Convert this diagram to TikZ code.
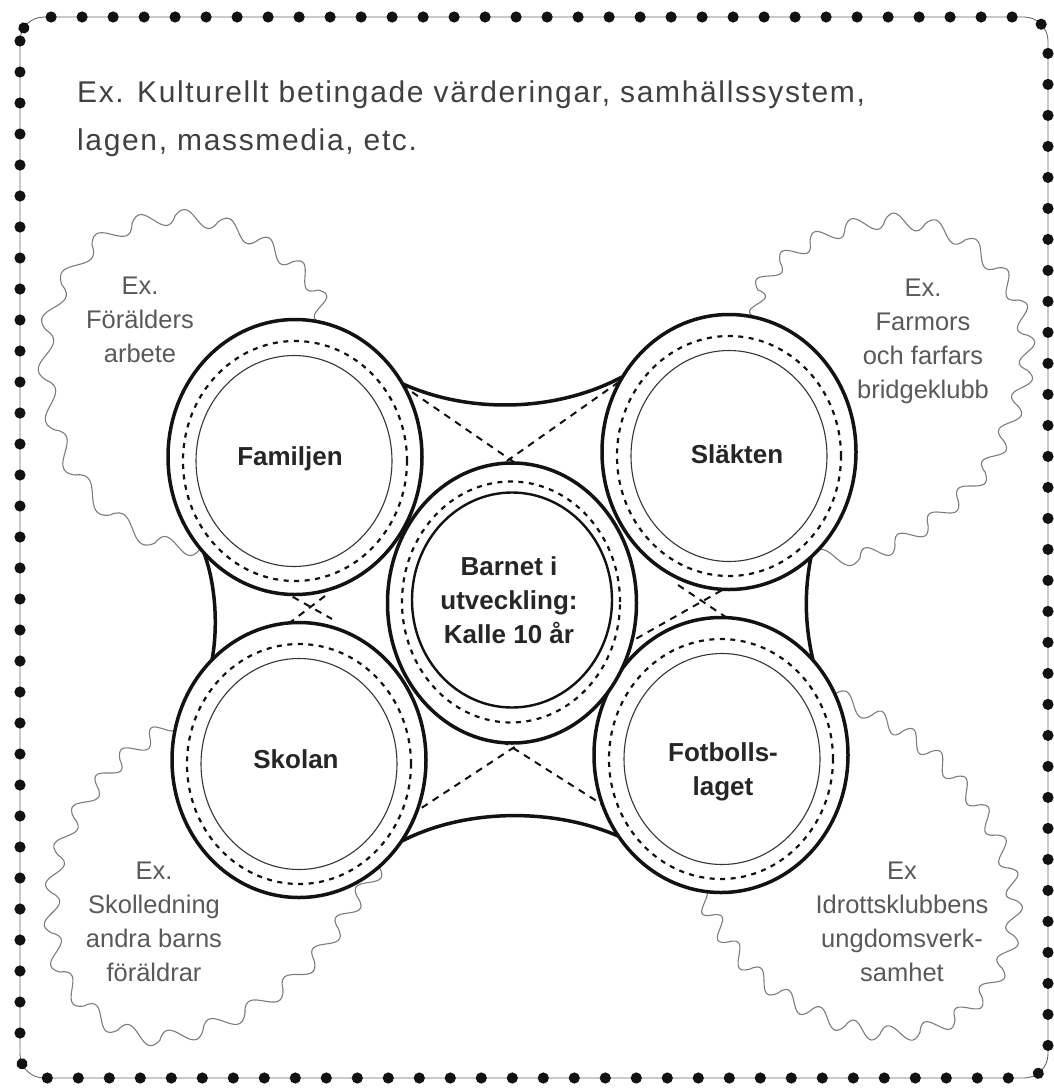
\documentclass[tikz,border=0pt]{standalone}
\usepackage{fontspec}
\setmainfont{Liberation Sans}
\usetikzlibrary{shapes.geometric,decorations.markings,backgrounds,calc}
\definecolor{ink}{HTML}{121212}
\definecolor{txtgray}{HTML}{404040}
\definecolor{lblgray}{HTML}{595959}
\definecolor{lbldark}{HTML}{262626}
\definecolor{wavgray}{HTML}{7C7C7C}
\definecolor{bordline}{HTML}{6A6A6A}
\begin{document}
\begin{tikzpicture}[x=1pt,y=-1pt,
  outerring/.style={ellipse, draw=ink, line width=3.5pt, fill=white, inner sep=0pt,
    minimum width=254pt, minimum height=275pt},
  dashring/.style={ellipse, draw=ink, line width=2.2pt, dash pattern=on 5pt off 5.5pt,
    inner sep=0pt, minimum width=224pt, minimum height=240pt},
  innerring/.style={ellipse, draw=ink!85, line width=1.1pt, inner sep=0pt,
    minimum width=196pt, minimum height=211pt},
  fillet/.style={draw=ink, line width=3.5pt},
  xdash/.style={draw=ink, line width=2pt, dash pattern=on 7pt off 6pt},
  wavyline/.style={draw=wavgray, line width=1.1pt},
  dotborder/.style={draw=bordline, line width=0.9pt, rounded corners=24pt,
    postaction={decorate, decoration={markings,
      mark=between positions 0 and 1 step 31pt with {\fill[ink] (0,0) circle (5.6pt);}}}},
  toptext/.style={anchor=north west, inner sep=0pt, align=left, text=txtgray,
    font=\fontsize{30pt}{48pt}\selectfont\addfontfeatures{LetterSpace=5.5}},
  exolabel/.style={align=center, inner sep=0pt, text=lblgray,
    font=\fontsize{25.5pt}{34pt}\selectfont},
  boldlabel/.style={align=center, inner sep=0pt, text=lbldark,
    font=\bfseries\fontsize{26pt}{34pt}\selectfont}
]
\useasboundingbox (0,0) rectangle (1053,1090);

% ---- the five circles ----
\node[outerring] (fam) at (295,457) {};
\node[dashring] (famd) at (295,461) {};
\node[innerring] (fami) at (294,461) {};

\node[outerring] (sla) at (729,452) {};
\node[dashring] (slad) at (729,456) {};
\node[innerring] (slai) at (729,456) {};

\node[outerring] (sko) at (299,760) {};
\node[dashring] (skod) at (299,764) {};
\node[innerring] (skoi) at (299,764) {};

\node[outerring] (fot) at (721,755) {};
\node[dashring] (fotd) at (721,759) {};
\node[innerring] (foti) at (722,759) {};

\node[outerring, minimum width=249pt, minimum height=280pt] (ctr) at (512,603) {};
\node[dashring, minimum width=218pt, minimum height=241pt] (ctrd) at (511,602) {};
\node[innerring, draw=ink, line width=2.4pt, minimum width=200pt, minimum height=215pt] (ctri) at (512,600) {};

% ---- points on the outer circles ----
\coordinate (famC) at (403,384);  \coordinate (famD) at (204,553);
\coordinate (slaB) at (811,557);  \coordinate (slaC) at (622,377);
\coordinate (skoC) at (402,841);  \coordinate (skoD) at (212,660);
\coordinate (fotC) at (618,836);  \coordinate (fotD) at (813,660);

% ---- labels ----
\node[boldlabel, anchor=base] (famt) at (290,465) {Familjen};
\node[boldlabel, anchor=base] (slat) at (737,463) {Släkten};
\node[boldlabel, anchor=base] (skot) at (296,768) {Skolan};
\node[boldlabel] (fott) at (723,772) {Fotbolls-\\laget};
\node[boldlabel] (ctrt) at (509,600) {Barnet i\\utveckling:\\Kalle 10 år};

\node[toptext] (cult) at (77,81) {Ex. Kulturellt betingade värderingar, samhällssystem,\\lagen, massmedia, etc.};

\node[exolabel] (exfam) at (140,320) {Ex.\\Förälders\\arbete};
\node[exolabel] (exsla) at (923,341) {Ex.\\Farmors\\och farfars\\bridgeklubb};
\node[exolabel] (exsko) at (154,922) {Ex.\\Skolledning\\andra barns\\föräldrar};
\node[exolabel] (exfot) at (902,922) {Ex\\Idrottsklubbens\\ungdomsverk-\\samhet};

% ---- midlines of the wavy outer fields ----
\foreach [count=\i] \x/\y in {323/323,318/290,292/262,258/240,218/222,175/216,
  132/224,92/245,62/285,46/330,46/380,55/430,75/475,110/515,155/543,200/549}
  \coordinate (tl\i) at (\x,\y);
\foreach [count=\i] \x/\y in {757/318,758/290,780/262,810/242,845/228,885/220,
  925/224,965/240,997/268,1018/300,1027/335,1027/370,1017/405,1003/440,
  985/472,958/500,928/525,895/545,860/558,811/557}
  \coordinate (tr\i) at (\x,\y);
\foreach [count=\i] \x/\y in {177/720,150/738,120/760,97/786,74/818,58/855,52/893,
  52/933,60/972,84/1006,118/1030,160/1040,203/1030,245/1013,283/989,
  314/960,338/928,358/898,379/867}
  \coordinate (bl\i) at (\x,\y);
\foreach [count=\i] \x/\y in {835/694,872/715,903/731,930/752,955/777,978/805,
  996/835,1009/868,1015/900,1013/935,1002/968,982/997,955/1019,920/1032,
  880/1034,845/1026,810/1011,778/993,750/969,728/942,712/915,697/890}
  \coordinate (br\i) at (\x,\y);

% ---- everything behind the circles ----
\begin{scope}[on background layer]
  \draw[dotborder] (20,17) rectangle (1048,1078);

  % wavy outer fields: one S-wave per midline step
  \draw[wavyline] (tl1) \foreach \i [evaluate=\i as \j using int(\i+1)] in {1,...,15}
    { .. controls ($(tl\i)!0.333!(tl\j)!27pt!90:(tl\j)$) and ($(tl\i)!0.667!(tl\j)!27pt!-90:(tl\j)$) .. (tl\j) };
  \draw[wavyline] (tr1) \foreach \i [evaluate=\i as \j using int(\i+1)] in {1,...,19}
    { .. controls ($(tr\i)!0.333!(tr\j)!27pt!90:(tr\j)$) and ($(tr\i)!0.667!(tr\j)!27pt!-90:(tr\j)$) .. (tr\j) };
  \draw[wavyline] (bl1) \foreach \i [evaluate=\i as \j using int(\i+1)] in {1,...,18}
    { .. controls ($(bl\i)!0.333!(bl\j)!27pt!90:(bl\j)$) and ($(bl\i)!0.667!(bl\j)!27pt!-90:(bl\j)$) .. (bl\j) };
  \draw[wavyline] (br1) \foreach \i [evaluate=\i as \j using int(\i+1)] in {1,...,21}
    { .. controls ($(br\i)!0.333!(br\j)!27pt!90:(br\j)$) and ($(br\i)!0.667!(br\j)!27pt!-90:(br\j)$) .. (br\j) };

  % dashed crossing lines
  \coordinate (tA1) at (380,370); \coordinate (tA2) at (540,480);
  \coordinate (tB1) at (640,367); \coordinate (tB2) at (480,480);
  \coordinate (bA1) at (400,822); \coordinate (bA2) at (545,727);
  \coordinate (bB1) at (480,727); \coordinate (bB2) at (625,819);
  \coordinate (rA1) at (625,645); \coordinate (rA2) at (740,580);
  \coordinate (rB1) at (678,585); \coordinate (rB2) at (760,640);
  \coordinate (lA1) at (270,584); \coordinate (lA2) at (332,619);
  \coordinate (lB1) at (325,596); \coordinate (lB2) at (280,630);
  \draw[xdash] (tA1) -- (tA2);
  \draw[xdash] (tB1) -- (tB2);
  \draw[xdash] (bA1) -- (bA2);
  \draw[xdash] (bB1) -- (bB2);
  \draw[xdash] (rA1) -- (rA2);
  \draw[xdash] (rB1) -- (rB2);
  \draw[xdash] (lA1) -- (lA2);
  \draw[xdash] (lB1) -- (lB2);

  % concave joins between the outer circles
  \draw[fillet] (famC) .. controls (470,414) and (556,412) .. (slaC);
  \draw[fillet] (skoC) .. controls (466,808) and (554,808) .. (fotC);
  \draw[fillet] (famD) .. controls (216,585) and (218,628) .. (skoD);
  \draw[fillet] (slaB) .. controls (804,592) and (805,626) .. (fotD);
\end{scope}
\end{tikzpicture}
\end{document}
